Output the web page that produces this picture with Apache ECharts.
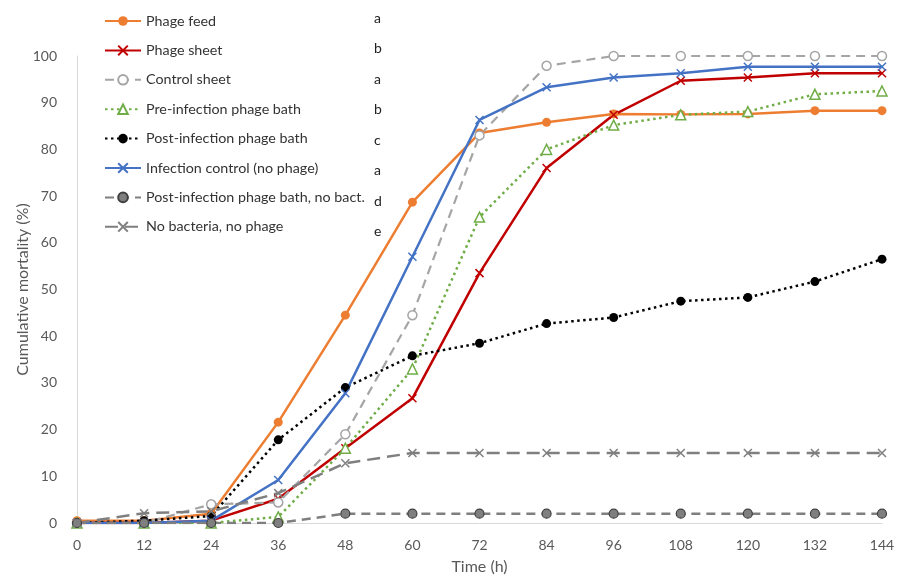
<!DOCTYPE html>
<html>
<head>
<meta charset="utf-8">
<script src="https://cdn.jsdelivr.net/npm/echarts@6/dist/echarts.min.js"></script>
<style>
html,body{margin:0;padding:0;background:#fff;}
#chart{width:898px;height:578px;}
</style>
</head>
<body>
<div id="chart"></div>
<script>
const timeLabels = ['0','12','24','36','48','60','72','84','96','108','120','132','144'];
const seriesNames = ['Phage feed','Phage sheet','Control sheet','Pre-infection phage bath','Post-infection phage bath','Infection control (no phage)','Post-infection phage bath, no bact.','No bacteria, no phage'];
const groupLetters = ['a','b','a','b','c','a','d','e'];
const phageFeed      = [0.5, 0.5, 2, 21.6, 44.5, 68.7, 83.5, 85.8, 87.6, 87.5, 87.6, 88.3, 88.3];
const phageSheet     = [0, 0, 0.5, 5.2, 16, 26.7, 53.5, 76, 87.4, 94.7, 95.4, 96.3, 96.3];
const controlSheet   = [0, 0, 4, 4.4, 19, 44.5, 83, 97.9, 100, 100, 100, 100, 100];
const preBath        = [0, 0, 0, 1.3, 16, 33, 65.5, 80, 85.2, 87.4, 88.1, 91.8, 92.5];
const postBath       = [0, 0.5, 1.5, 17.8, 29, 35.8, 38.5, 42.7, 44, 47.5, 48.3, 51.7, 56.5];
const infControl     = [0, 0, 0.5, 9.2, 27.8, 57, 86.3, 93.3, 95.4, 96.3, 97.7, 97.7, 97.7];
const postBathNoBact = [0, 0, 0, 0, 2, 2, 2, 2, 2, 2, 2, 2, 2];
const noBactNoPhage  = [0, 2.1, 2.5, 6.4, 12.8, 15, 15, 15, 15, 15, 15, 15, 15];

const xPath = 'path://M0,0L10,10M10,0L0,10';
const FONT = 'Lato';

function mk(name, data, color, lineType, width, symbol, size, itemStyle) {
  return {
    name: name, type: 'line', data: data,
    symbol: symbol, symbolSize: size, showSymbol: true,
    lineStyle: {color: color, width: width, type: lineType},
    itemStyle: itemStyle,
    emphasis: {disabled: true},
    animation: false
  };
}

const series = [
  mk(seriesNames[0], phageFeed, '#ED7D31', 'solid', 2.5, 'circle', 9, {color:'#ED7D31'}),
  mk(seriesNames[1], phageSheet, '#C00000', 'solid', 2.5, xPath, 8, {color:'#C00000', borderColor:'#C00000', borderWidth:1.5}),
  mk(seriesNames[2], controlSheet, '#A5A5A5', [9,6], 2.2, 'circle', 9, {color:'#ffffff', borderColor:'#A5A5A5', borderWidth:1.5}),
  mk(seriesNames[3], preBath, '#70AD47', [2.5,3.5], 2.5, 'triangle', 10, {color:'#ffffff', borderColor:'#70AD47', borderWidth:1.5}),
  mk(seriesNames[4], postBath, '#000000', [2.5,3.5], 2.5, 'circle', 9, {color:'#000000'}),
  mk(seriesNames[5], infControl, '#4472C4', 'solid', 2.5, xPath, 8, {color:'#4472C4', borderColor:'#4472C4', borderWidth:1.5}),
  mk(seriesNames[6], postBathNoBact, '#7F7F7F', [9,6], 2.5, 'circle', 9, {color:'#7F7F7F', borderColor:'#404040', borderWidth:1.2}),
  mk(seriesNames[7], noBactNoPhage, '#7F7F7F', [13,7], 2.5, xPath, 8, {color:'#7F7F7F', borderColor:'#7F7F7F', borderWidth:1.5})
];

const legendTop = 9;
const rowH = 29.4;
const letterRowH = 30.5;
const graphics = groupLetters.map((l, i) => ({
  type: 'text', left: 374, top: 11 + i * letterRowH,
  style: {text: l, font: '14px ' + FONT, fill: '#222'}
}));

const chart = echarts.init(document.getElementById('chart'), null, {renderer: 'canvas'});
chart.setOption({
  animation: false,
  backgroundColor: '#fff',
  textStyle: {fontFamily: FONT},
  grid: {left: 77, right: 16, top: 56, bottom: 55, containLabel: false, outerBoundsMode: 'none'},
  legend: {
    orient: 'vertical', left: 99, top: legendTop,
    itemWidth: 36, itemHeight: 12, itemGap: rowH - 14,
    data: seriesNames,
    textStyle: {fontSize: 14.3, color: '#333', fontFamily: FONT},
    selectedMode: false
  },
  xAxis: {
    type: 'category', data: timeLabels, boundaryGap: false,
    name: 'Time (h)', nameLocation: 'middle', nameGap: 36, nameMoveOverlap: false,
    nameTextStyle: {fontSize: 16, color: '#595959', fontFamily: FONT},
    axisLine: {show: true, lineStyle: {color: '#D9D9D9', width: 1}},
    axisTick: {show: false},
    axisLabel: {fontSize: 14, color: '#595959', margin: 15, fontFamily: FONT},
    splitLine: {show: false}
  },
  yAxis: {
    type: 'value', min: 0, max: 100, interval: 10,
    name: 'Cumulative mortality (%)', nameLocation: 'middle', nameGap: 46, nameMoveOverlap: false,
    nameTextStyle: {fontSize: 16, color: '#595959', fontFamily: FONT},
    axisLine: {show: true, lineStyle: {color: '#D9D9D9', width: 1}},
    axisTick: {show: false},
    axisLabel: {fontSize: 14, color: '#595959', margin: 20, fontFamily: FONT},
    splitLine: {show: false}
  },
  graphic: graphics,
  series: series
});
</script>
</body>
</html>
